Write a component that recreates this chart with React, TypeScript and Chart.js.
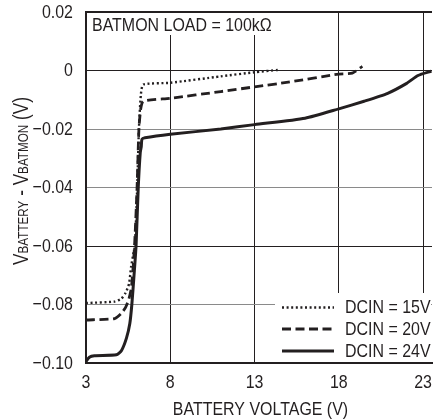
import React, { useEffect, useRef } from "react";
import { Chart, registerables } from "chart.js";

Chart.register(...registerables);

const xTicks = [3, 8, 13, 18, 23];
const yTicks = [-0.1, -0.08, -0.06, -0.04, -0.02, 0, 0.02];

const dcin15X = [3, 4.7, 5.1, 5.35, 5.55, 5.68, 5.8, 5.9, 6.04, 6.14, 6.26, 6.4, 8, 11, 13, 14.4];
const dcin15Y = [-0.0795, -0.079, -0.078, -0.076, -0.073, -0.067, -0.063, -0.06, -0.04, -0.02, -0.008, -0.0048, -0.0042, -0.002, -0.0006, 0.0002];

const dcin20X = [3, 4.7, 5.1, 5.35, 5.55, 5.7, 5.88, 6.03, 6.14, 6.25, 6.4, 8, 11, 13, 15, 18, 18.8, 19.4];
const dcin20Y = [-0.0853, -0.0848, -0.083, -0.081, -0.078, -0.074, -0.06, -0.04, -0.02, -0.013, -0.0105, -0.0095, -0.0072, -0.0056, -0.004, -0.0012, -0.0009, 0.0014];

const dcin24X = [3, 3.2, 3.5, 4.8, 5.1, 5.4, 5.6, 5.72, 5.85, 5.97, 6.1, 6.22, 6.28, 6.32, 6.5, 8, 11, 13, 16, 18, 19.5, 20.9, 22, 22.7, 23.5];
const dcin24Y = [-0.0995, -0.098, -0.0975, -0.0972, -0.0958, -0.0915, -0.0865, -0.08, -0.07, -0.06, -0.04, -0.028, -0.026, -0.0235, -0.023, -0.0218, -0.02, -0.0185, -0.0163, -0.0131, -0.0105, -0.0078, -0.0045, -0.0017, -0.0002];

const legendLabels = ["DCIN = 15V", "DCIN = 20V", "DCIN = 24V"];
const annotationText = "BATMON LOAD = 100kΩ";
const xTitle = "BATTERY VOLTAGE (V)";

const FONT = '"Liberation Sans", Arial, sans-serif';
const SQUEEZE = 0.84;
const INK = "#231f20";

const toPts = (xs: number[], ys: number[]) => xs.map((x, i) => ({ x, y: ys[i] }));

const fmtY = (v: number) => {
  if (Math.abs(v) < 1e-9) return "0";
  const s = Math.abs(v).toFixed(2);
  return v < 0 ? "\u2212" + s : s;
};

const styles = [
  { dash: [2, 2.6], width: 2.4 },
  { dash: [9, 4.5], width: 2.8 },
  { dash: [], width: 3 },
];

function squeezed(ctx: any, text: string, x: number, y: number, align: string, size: number) {
  ctx.save();
  ctx.translate(x, y);
  ctx.scale(SQUEEZE, 1);
  ctx.font = `${size}px ${FONT}`;
  ctx.textAlign = align;
  ctx.textBaseline = "middle";
  ctx.fillStyle = INK;
  ctx.fillText(text, 0, 0);
  ctx.restore();
}

const overlay = {
  id: "overlay",
  beforeDatasetsDraw(chart: any) {
    const { ctx, chartArea } = chart;
    ctx.save();
    ctx.fillStyle = "#fff";
    ctx.fillRect(chartArea.left + 1, chartArea.top + 1, 194, 22);
    ctx.fillRect(275, 293, chartArea.right - 275 - 1, chartArea.bottom - 293 - 1);
    ctx.restore();
  },
  afterDatasetsDraw(chart: any) {
    const { ctx, chartArea, scales } = chart;
    xTicks.forEach((v) => squeezed(ctx, String(v), scales.x.getPixelForValue(v), 383, "center", 19));
    yTicks.forEach((v) => squeezed(ctx, fmtY(v), 73, scales.y.getPixelForValue(v) + 0.5, "right", 19));

    squeezed(ctx, annotationText, chartArea.left + 6, 26, "left", 19);

    const rows = [307.5, 329, 351];
    rows.forEach((y, i) => {
      ctx.save();
      ctx.beginPath();
      ctx.strokeStyle = INK;
      ctx.lineWidth = styles[i].width;
      ctx.setLineDash(styles[i].dash);
      ctx.moveTo(282, y);
      ctx.lineTo(334, y);
      ctx.stroke();
      ctx.restore();
      squeezed(ctx, legendLabels[i], 345, y + 0.5, "left", 19);
    });

    squeezed(ctx, xTitle, 260.5, 410, "center", 19);

    ctx.save();
    ctx.translate(27.5, 181);
    ctx.rotate(-Math.PI / 2);
    ctx.scale(0.78, 1);
    ctx.fillStyle = INK;
    ctx.textBaseline = "alphabetic";
    const big = `22px ${FONT}`;
    const small = `15px ${FONT}`;
    const parts: [string, string][] = [
      ["V", big],
      ["BATTERY", small],
      [" - V", big],
      ["BATMON", small],
      [" (V)", big],
    ];
    let total = 0;
    parts.forEach(([t, f]) => {
      ctx.font = f;
      total += ctx.measureText(t).width;
    });
    let x = -total / 2;
    ctx.textAlign = "left";
    parts.forEach(([t, f]) => {
      ctx.font = f;
      ctx.fillText(t, x, 0);
      x += ctx.measureText(t).width;
    });
    ctx.restore();
  },
};

export default function App() {
  const ref = useRef<HTMLCanvasElement>(null);
  useEffect(() => {
    if (!ref.current) return;
    const series = [toPts(dcin15X, dcin15Y), toPts(dcin20X, dcin20Y), toPts(dcin24X, dcin24Y)];
    const chart = new Chart(ref.current, {
      type: "line",
      data: {
        datasets: series.map((d, i) => ({
          label: legendLabels[i],
          data: d,
          borderColor: INK,
          borderWidth: styles[i].width,
          borderDash: styles[i].dash,
          pointRadius: 0,
          tension: 0.2,
          fill: false,
        })),
      },
      options: {
        animation: false,
        responsive: false,
        maintainAspectRatio: false,
        layout: { padding: { top: 12, right: 3, left: 0, bottom: 0 } },
        plugins: { legend: { display: false }, tooltip: { enabled: false } },
        scales: {
          x: {
            type: "linear",
            min: 3,
            max: 23.53,
            afterBuildTicks: (s: any) => {
              s.ticks = xTicks.map((v) => ({ value: v }));
            },
            afterFit: (s: any) => {
              s.height = 57;
              s.paddingLeft = 0;
              s.paddingRight = 0;
            },
            ticks: { display: false },
            grid: { color: INK, lineWidth: 1, drawTicks: false },
            border: { color: INK, width: 2 },
          },
          y: {
            type: "linear",
            min: -0.1,
            max: 0.02,
            afterBuildTicks: (s: any) => {
              s.ticks = yTicks.map((v) => ({ value: v }));
            },
            afterFit: (s: any) => {
              s.width = 86;
              s.paddingTop = 0;
              s.paddingBottom = 0;
            },
            ticks: { display: false },
            grid: {
              drawTicks: false,
              lineWidth: (c: any) => (c.tick && Math.abs(c.tick.value - 0.02) < 1e-6 ? 2 : 1),
              color: (c: any) => {
                const v = c.tick ? c.tick.value : 0;
                if (Math.abs(v) < 1e-6 || Math.abs(v + 0.06) < 1e-6 || Math.abs(v - 0.02) < 1e-6) return INK;
                return "#8a8a8a";
              },
            },
            border: { color: INK, width: 2 },
          },
        },
      },
      plugins: [overlay],
    });
    return () => chart.destroy();
  }, []);
  return (
    <div style={{ position: "fixed", left: 0, top: 0, width: 435, height: 420, background: "#fff" }}>
      <canvas ref={ref} width={435} height={420} style={{ width: 435, height: 420 }} />
    </div>
  );
}
